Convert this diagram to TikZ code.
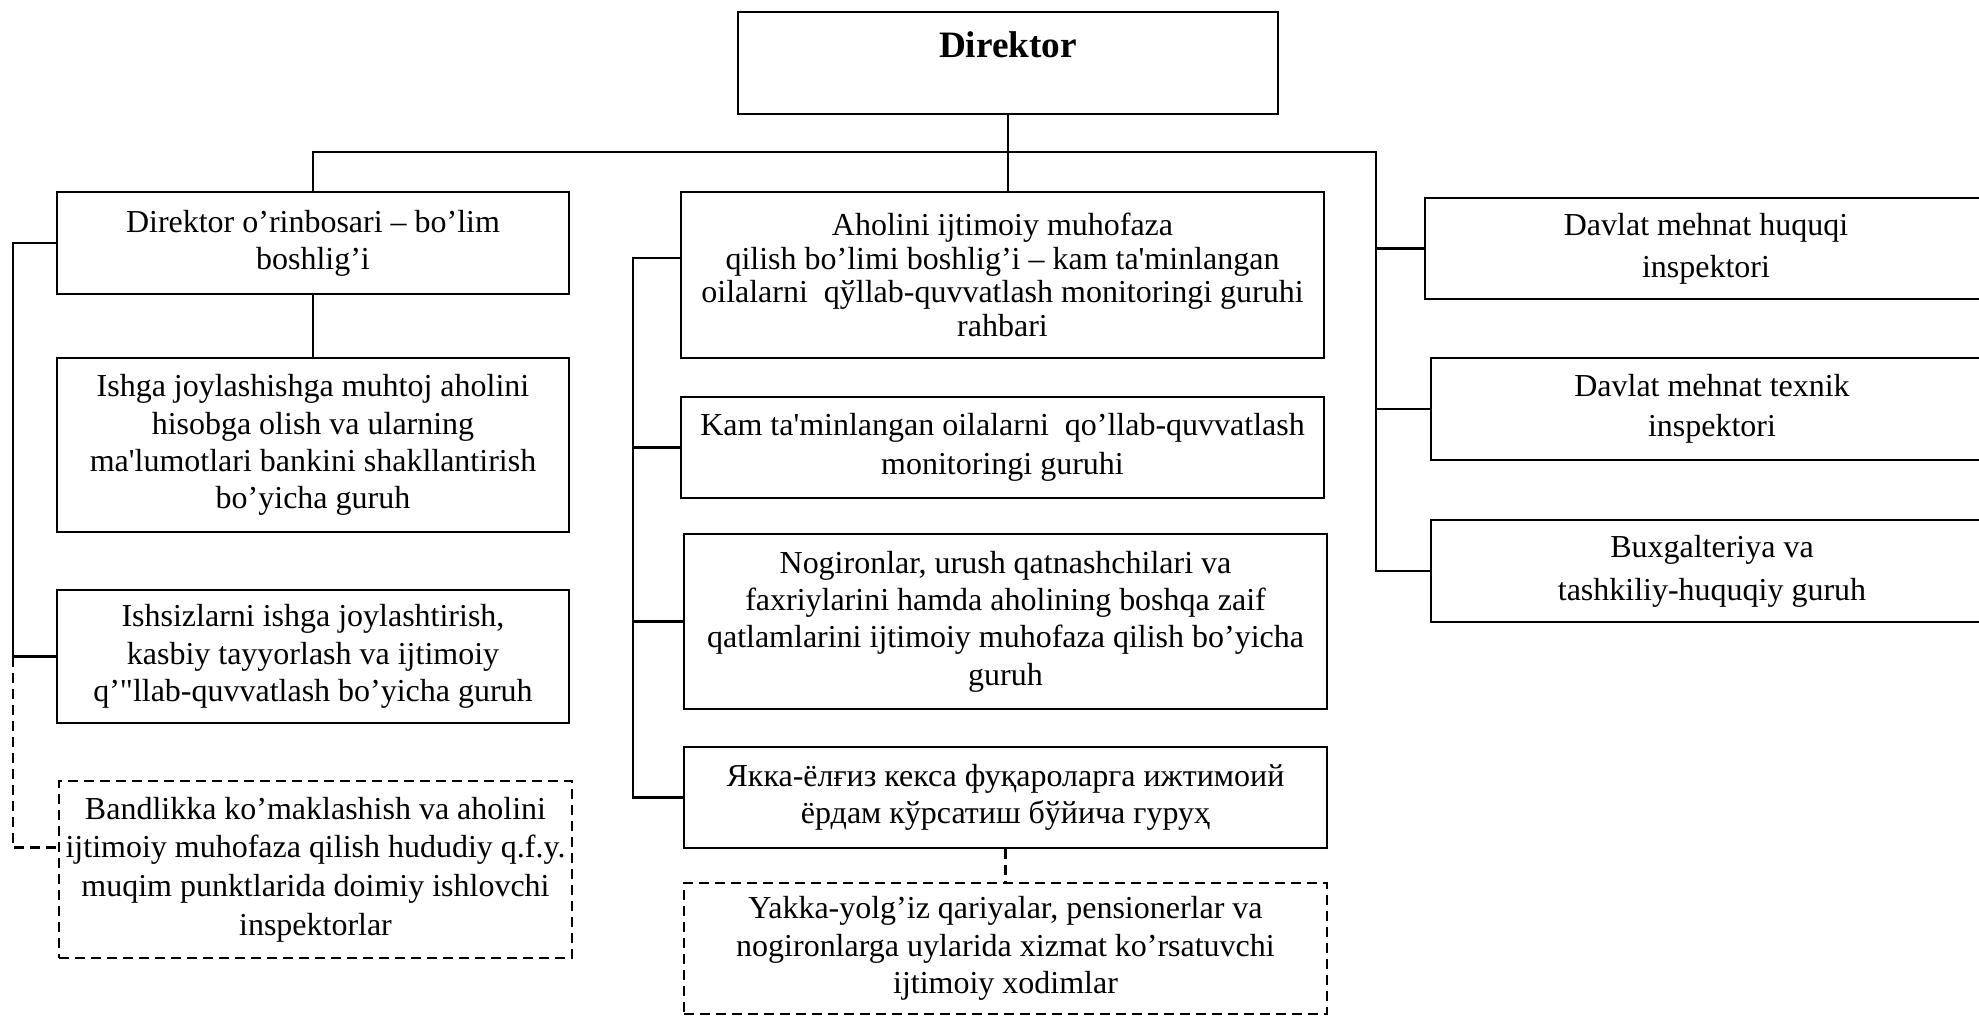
\documentclass[tikz,border=0pt]{standalone}
\usepackage{fontspec}
\setmainfont{Liberation Serif}
\newcommand{\apos}{\textquotesingle}
\begin{document}
\begin{tikzpicture}[
    box/.style={draw, line width=0.7pt, align=center, inner sep=0pt,
      font=\fontsize{9.1}{10.6}\selectfont},
    dbox/.style={box, dash pattern=on 0.1cm off 0.06cm},
    link/.style={line width=0.6pt},
    dlink/.style={link, dash pattern=on 0.1cm off 0.06cm}]
  \useasboundingbox (0,0) rectangle (19.79,-10.16);
  % top
  \node[box, minimum width=5.40cm, minimum height=1.02cm, text height=0.25cm, text depth=0.37cm,
    font=\fontsize{10.6}{12}\selectfont\bfseries] (dir) at (10.08,-0.63) {Direktor};
  % left column
  \node[box, minimum width=5.12cm, minimum height=1.02cm] (dep) at (3.13,-2.43)
    {Direktor o’rinbosari – bo’lim\\boshlig’i};
  \node[box, minimum width=5.12cm, minimum height=1.74cm] (ishga) at (3.13,-4.45)
    {Ishga joylashishga muhtoj aholini\\hisobga olish va ularning\\ma\apos lumotlari bankini shakllantirish\\bo’yicha guruh};
  \node[box, minimum width=5.12cm, minimum height=1.33cm] (ishsiz) at (3.13,-6.565)
    {Ishsizlarni ishga joylashtirish,\\kasbiy tayyorlash va ijtimoiy\\q’\textquotedbl llab-quvvatlash bo’yicha guruh};
  \node[dbox, minimum width=5.13cm, minimum height=1.77cm, font=\fontsize{9.1}{11}\selectfont] (bandl) at (3.155,-8.695)
    {Bandlikka ko’maklashish va aholini\\ijtimoiy muhofaza qilish hududiy q.f.y.\\muqim punktlarida doimiy ishlovchi\\inspektorlar};
  % middle column
  \node[box, minimum width=6.43cm, minimum height=1.66cm, font=\fontsize{9.1}{9.6}\selectfont] (ahol) at (10.025,-2.75)
    {Aholini ijtimoiy muhofaza\\qilish bo’limi boshlig’i – kam ta\apos minlangan\\oilalarni\ \ qўllab-quvvatlash monitoringi guruhi\\rahbari};
  \node[box, minimum width=6.43cm, minimum height=1.01cm, font=\fontsize{9.1}{11.2}\selectfont] (kam) at (10.025,-4.475)
    {Kam ta\apos minlangan oilalarni\ \ qo’llab-quvvatlash\\monitoringi guruhi};
  \node[box, minimum width=6.43cm, minimum height=1.75cm] (nogir) at (10.055,-6.215)
    {Nogironlar, urush qatnashchilari va\\faxriylarini hamda aholining boshqa zaif\\qatlamlarini ijtimoiy muhofaza qilish bo’yicha\\guruh};
  \node[box, minimum width=6.43cm, minimum height=1.01cm] (yakk) at (10.055,-7.975)
    {Якка-ёлғиз кекса фуқароларга ижтимоий\\ёрдам кўрсатиш бўйича гуруҳ};
  \node[dbox, minimum width=6.43cm, minimum height=1.31cm] (yolg) at (10.055,-9.485)
    {Yakka-yolg’iz qariyalar, pensionerlar va\\nogironlarga uylarida xizmat ko’rsatuvchi\\ijtimoiy xodimlar};
  % right column
  \node[box, minimum width=5.62cm, minimum height=1.01cm, font=\fontsize{9.1}{12}\selectfont] (huq) at (17.06,-2.485)
    {Davlat mehnat huquqi\\inspektori};
  \node[box, minimum width=5.62cm, minimum height=1.02cm, font=\fontsize{9.1}{11.5}\selectfont] (tex) at (17.12,-4.09)
    {Davlat mehnat texnik\\inspektori};
  \node[box, minimum width=5.62cm, minimum height=1.02cm, font=\fontsize{9.1}{12.2}\selectfont] (buh) at (17.12,-5.71)
    {Buxgalteriya va\\tashkiliy-huquqiy guruh};
  % connectors
  \coordinate (busR) at (13.76,-1.52);
  \coordinate (busL) at (0.13,0);
  \coordinate (busM) at (6.33,0);
  \coordinate (aholW) at ([yshift=0.17cm]ahol.west);
  \coordinate (bandlW) at ([yshift=0.22cm]bandl.west);
  \draw[link] (dir.south) -- (dir.south |- ahol.north);
  \draw[link] (dep.north) |- (busR) -- (busR |- buh.west) -- (buh.west);
  \draw[link] (busR |- huq.west) -- (huq.west);
  \draw[link] (busR |- tex.west) -- (tex.west);
  \draw[link] (dep.south) -- (ishga.north);
  \draw[link] (dep.west) -- (busL |- dep.west) -- (busL |- ishsiz.west) -- (ishsiz.west);
  \draw[dlink] (busL |- ishsiz.west) |- (bandlW);
  \draw[link] (aholW) -- (busM |- aholW) -- (busM |- yakk.west) -- (yakk.west);
  \draw[link] (busM |- kam.west) -- (kam.west);
  \draw[link] (busM |- nogir.west) -- (nogir.west);
  \draw[dlink] (yakk.south) -- (yolg.north);
\end{tikzpicture}
\end{document}
